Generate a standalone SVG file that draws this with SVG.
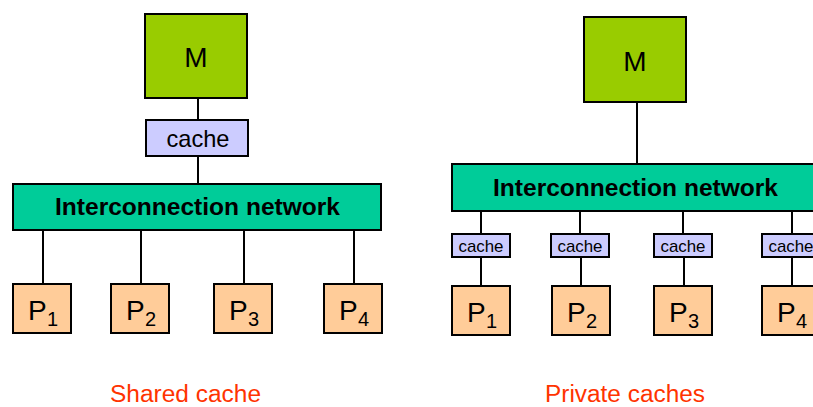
<svg xmlns="http://www.w3.org/2000/svg" width="813" height="407" viewBox="0 0 813 407">
  <style>
    .box { stroke: #000; stroke-width: 2; }
    .mem { fill: #99cc00; }
    .cache { fill: #ccccff; }
    .net { fill: #00cc99; }
    .proc { fill: #ffcc99; }
    .wire { stroke: #000; stroke-width: 2; fill: none; }
    text { font-family: "Liberation Sans", Arial, sans-serif; fill: #000; }
    .lbl-m { font-size: 28px; }
    .lbl-net { font-size: 23px; font-weight: bold; }
    .lbl-cache { font-size: 24px; }
    .lbl-cache-s { font-size: 17px; }
    .lbl-p { font-size: 28px; }
    .lbl-sub { font-size: 20px; }
    .caption { font-size: 23px; fill: #ff3300; }
  </style>
  <rect width="813" height="407" fill="#fff"/>

  <!-- wires -->
  <g id="connectors">
    <!-- shared-cache system -->
    <line class="wire" x1="198" y1="98" x2="198" y2="120"/>
    <line class="wire" x1="198" y1="156" x2="198" y2="184"/>
    <line class="wire" x1="43" y1="230" x2="43" y2="284"/>
    <line class="wire" x1="141" y1="230" x2="141" y2="284"/>
    <line class="wire" x1="244" y1="230" x2="244" y2="284"/>
    <line class="wire" x1="354" y1="230" x2="354" y2="284"/>
    <!-- private-cache system -->
    <line class="wire" x1="637" y1="102" x2="637" y2="164"/>
    <line class="wire" x1="481" y1="211" x2="481" y2="234"/>
    <line class="wire" x1="580" y1="211" x2="580" y2="234"/>
    <line class="wire" x1="683" y1="211" x2="683" y2="234"/>
    <line class="wire" x1="792" y1="211" x2="792" y2="234"/>
    <line class="wire" x1="481" y1="257" x2="481" y2="286"/>
    <line class="wire" x1="581" y1="257" x2="581" y2="286"/>
    <line class="wire" x1="684" y1="257" x2="684" y2="286"/>
    <line class="wire" x1="792" y1="257" x2="792" y2="286"/>
  </g>

  <!-- shared-cache system -->
  <g id="left-mem">
    <rect class="box mem" x="145" y="14" width="102" height="84"/>
    <text class="lbl-m" x="196" y="67" text-anchor="middle">M</text>
  </g>
  <g id="left-cache">
    <rect class="box cache" x="146" y="120" width="102" height="36"/>
    <text class="lbl-cache" x="198" y="147" text-anchor="middle" textLength="63" lengthAdjust="spacingAndGlyphs">cache</text>
  </g>
  <g id="left-net">
    <rect class="box net" x="13" y="184" width="368" height="46"/>
    <text class="lbl-net" x="55" y="215" textLength="285" lengthAdjust="spacingAndGlyphs">Interconnection network</text>
  </g>
  <g id="left-p1">
    <rect class="box proc" x="13" y="284" width="58" height="49"/>
    <text x="28" y="320"><tspan class="lbl-p">P</tspan><tspan class="lbl-sub" x="47" y="326">1</tspan></text>
  </g>
  <g id="left-p2">
    <rect class="box proc" x="111" y="284" width="58" height="49"/>
    <text x="126" y="320"><tspan class="lbl-p">P</tspan><tspan class="lbl-sub" x="145" y="326">2</tspan></text>
  </g>
  <g id="left-p3">
    <rect class="box proc" x="214" y="284" width="58" height="49"/>
    <text x="229" y="320"><tspan class="lbl-p">P</tspan><tspan class="lbl-sub" x="248" y="326">3</tspan></text>
  </g>
  <g id="left-p4">
    <rect class="box proc" x="324" y="284" width="58" height="49"/>
    <text x="339" y="320"><tspan class="lbl-p">P</tspan><tspan class="lbl-sub" x="358" y="326">4</tspan></text>
  </g>
  <text class="caption" x="110" y="402" textLength="151" lengthAdjust="spacingAndGlyphs">Shared cache</text>

  <!-- private-cache system -->
  <g id="right-mem">
    <rect class="box mem" x="584" y="17" width="102" height="85"/>
    <text class="lbl-m" x="635" y="71" text-anchor="middle">M</text>
  </g>
  <g id="right-net">
    <rect class="box net" x="452" y="164" width="368" height="47"/>
    <text class="lbl-net" x="493" y="196" textLength="285" lengthAdjust="spacingAndGlyphs">Interconnection network</text>
  </g>
  <g id="right-c1">
    <rect class="box cache" x="452" y="234" width="58" height="23"/>
    <text class="lbl-cache-s" x="481" y="252" text-anchor="middle" textLength="45" lengthAdjust="spacingAndGlyphs">cache</text>
  </g>
  <g id="right-c2">
    <rect class="box cache" x="551" y="234" width="58" height="23"/>
    <text class="lbl-cache-s" x="580" y="252" text-anchor="middle" textLength="45" lengthAdjust="spacingAndGlyphs">cache</text>
  </g>
  <g id="right-c3">
    <rect class="box cache" x="654" y="234" width="58" height="23"/>
    <text class="lbl-cache-s" x="683" y="252" text-anchor="middle" textLength="45" lengthAdjust="spacingAndGlyphs">cache</text>
  </g>
  <g id="right-c4">
    <rect class="box cache" x="762" y="234" width="58" height="23"/>
    <text class="lbl-cache-s" x="791" y="252" text-anchor="middle" textLength="45" lengthAdjust="spacingAndGlyphs">cache</text>
  </g>
  <g id="right-p1">
    <rect class="box proc" x="452" y="286" width="58" height="49"/>
    <text x="467" y="322"><tspan class="lbl-p">P</tspan><tspan class="lbl-sub" x="486" y="328">1</tspan></text>
  </g>
  <g id="right-p2">
    <rect class="box proc" x="552" y="286" width="58" height="49"/>
    <text x="567" y="322"><tspan class="lbl-p">P</tspan><tspan class="lbl-sub" x="586" y="328">2</tspan></text>
  </g>
  <g id="right-p3">
    <rect class="box proc" x="654" y="286" width="58" height="49"/>
    <text x="669" y="322"><tspan class="lbl-p">P</tspan><tspan class="lbl-sub" x="688" y="328">3</tspan></text>
  </g>
  <g id="right-p4">
    <rect class="box proc" x="762" y="286" width="58" height="49"/>
    <text x="777" y="322"><tspan class="lbl-p">P</tspan><tspan class="lbl-sub" x="796" y="328">4</tspan></text>
  </g>
  <text class="caption" x="545" y="402" textLength="160" lengthAdjust="spacingAndGlyphs">Private caches</text>
</svg>
